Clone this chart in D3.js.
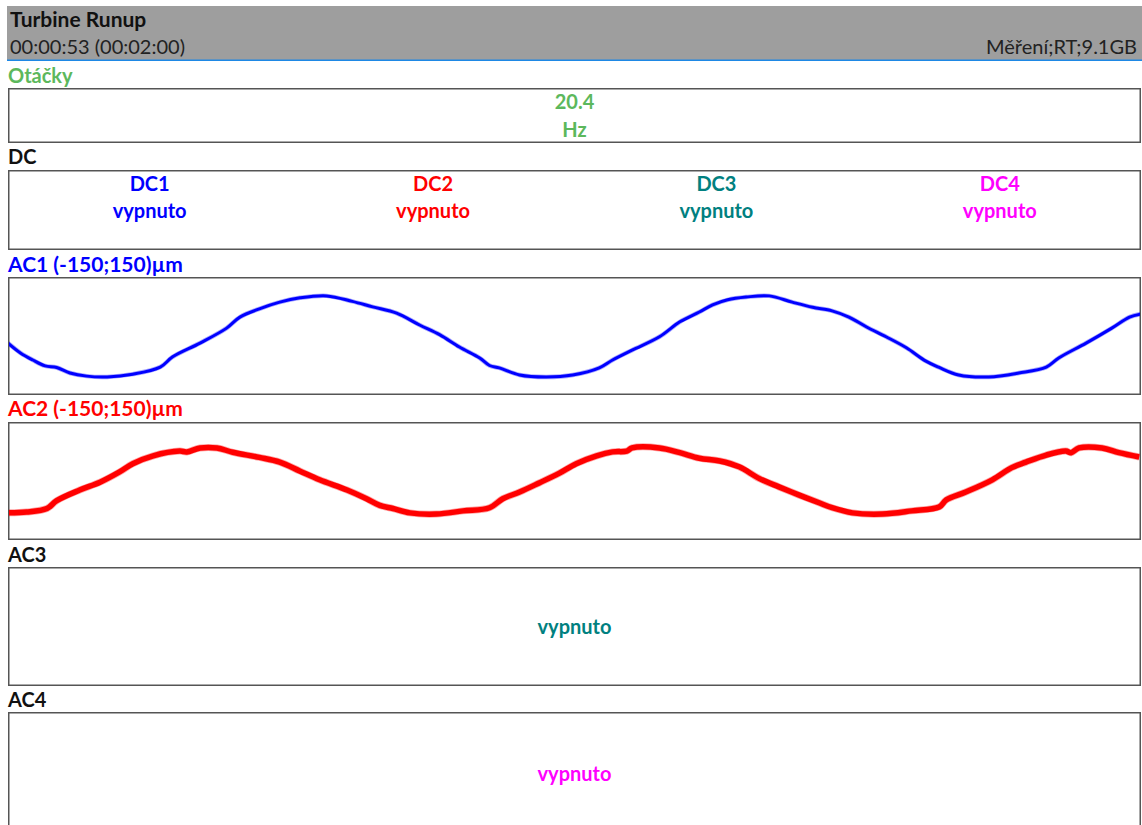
<!DOCTYPE html>
<html><head><meta charset="utf-8">
<script src="https://cdn.jsdelivr.net/npm/d3@7"></script>
<style>
html,body{margin:0;padding:0;background:#fff;}
svg{display:block;font-family:Lato,"Noto Sans",sans-serif;}
</style></head>
<body>
<script>
// ---- data ----
const title = "Turbine Runup";
const timeText = "00:00:53 (00:02:00)";
const statusText = "Měření;RT;9.1GB";
const speedLabel = "Otáčky";
const speedValue = "20.4";
const speedUnit = "Hz";
const dcChannels = ["DC1", "DC2", "DC3", "DC4"];
const dcStates = ["vypnuto", "vypnuto", "vypnuto", "vypnuto"];
const acLabels = ["AC1 (-150;150)µm", "AC2 (-150;150)µm", "AC3", "AC4"];
const acOffText = "vypnuto";
const acRange = [-150, 150];
const timeDomain = [0, 128]; // ms

// AC1 samples: time (ms), displacement (µm)
const ac1Time = [0,1.4,2.8,4.2,5.5,7.0,8.9,11.2,14.1,17.2,18.6,21.7,24.7,26.2,28.4,30.7,33.0,36.0,38.9,41.2,43.9,46.5,48.8,51.0,53.3,54.4,55.5,57.8,60.8,63.8,66.8,68.3,70.5,73.6,75.9,78.1,79.6,81.3,83.4,86.0,88.6,90.9,93.1,95.0,97.0,99.2,101.5,103.7,105.2,107.4,110.8,114.2,117.3,118.7,121.8,124.7,126.7,128];
const ac1Value = [-18,-43,-61,-76,-80,-94,-102,-104,-97,-79,-53,-18,20,48,69,86,97,102,88,74,58,28,3,-28,-56,-75,-81,-99,-104,-99,-81,-61,-36,-2,36,61,79,92,99,102,86,73,64,48,23,-2,-30,-64,-80,-99,-104,-94,-79,-56,-18,20,48,56];

// AC2 samples: time (ms), displacement (µm)
const ac2Time = [0,2.1,4.4,5.5,8.1,10.4,12.6,14.1,16.4,19.4,20.2,21.7,23.6,25.4,28.4,30.7,33.0,35.2,38.3,40.5,42.0,43.5,45.4,48.4,51.4,54.4,55.9,57.8,60.0,62.3,64.2,66.5,68.3,69.9,70.5,73.6,75.9,78.1,80.4,82.6,84.9,87.1,89.4,91.7,93.1,95.4,98.8,102.1,105.2,106.0,108.2,111.2,113.4,115.0,117.3,119.5,120.1,121.0,123.6,125.5,127.8];
const ac2Value = [-81,-79,-70,-50,-23,-3,23,44,64,76,74,84,84,73,60,48,25,3,-23,-45,-62,-70,-81,-84,-76,-68,-45,-28,-5,20,44,64,74,76,84,84,72,58,51,36,6,-15,-36,-56,-68,-81,-84,-76,-66,-48,-28,3,34,48,66,76,72,84,84,72,61];

// ---- styles ----
const W = 1142, H = 825;
const C = {
  header: "#9e9e9e", headerLine: "#1e88e5", green: "#5cb85c",
  blue: "#0000ff", red: "#ff0000", teal: "#008080", magenta: "#ff00ff",
  text: "#111", border: "#555"
};
const FS = 20;
const dcColors = [C.blue, C.red, C.teal, C.magenta];
const boxX0 = 8, boxX1 = 1141;

const svg = d3.select("body").append("svg").attr("width", W).attr("height", H);

// header
svg.append("rect").attr("x", 7).attr("y", 6).attr("width", W - 7).attr("height", 54).attr("fill", C.header);
svg.append("rect").attr("x", 7).attr("y", 59.5).attr("width", W - 7).attr("height", 1.5).attr("fill", C.headerLine);
svg.append("text").attr("x", 10).attr("y", 27).attr("font-size", 21).attr("font-weight", "bold").attr("fill", C.text).text(title);
svg.append("text").attr("x", 10).attr("y", 54).attr("font-size", FS).attr("fill", "#222").text(timeText);
svg.append("text").attr("x", 1137).attr("y", 54).attr("text-anchor", "end").attr("font-size", FS).attr("fill", "#222").text(statusText);

function box(y0, y1) {
  svg.append("rect").attr("x", boxX0 + 0.75).attr("y", y0 + 0.75)
    .attr("width", boxX1 - boxX0 - 1.5).attr("height", y1 - y0 - 1.5)
    .attr("fill", "#fff").attr("stroke", C.border).attr("stroke-width", 1.5);
}
function label(y, txt, color, fs) {
  svg.append("text").attr("x", 8).attr("y", y).attr("font-size", fs || FS).attr("font-weight", "bold").attr("fill", color).text(txt);
}
const cx = (boxX0 + boxX1) / 2;

// Otáčky
label(83, speedLabel, C.green);
box(88, 143);
svg.append("text").attr("x", cx).attr("y", 109).attr("text-anchor", "middle").attr("font-size", FS).attr("font-weight", "bold").attr("fill", C.green).text(speedValue);
svg.append("text").attr("x", cx).attr("y", 137).attr("text-anchor", "middle").attr("font-size", FS).attr("font-weight", "bold").attr("fill", C.green).text(speedUnit);

// DC
label(164, "DC", C.text);
box(170, 250);
const dcX = d3.scaleBand().domain(dcChannels).range([boxX0, boxX1 + 0.5]);
dcChannels.forEach((ch, i) => {
  const x = dcX(ch) + dcX.bandwidth() / 2;
  svg.append("text").attr("x", x).attr("y", 191).attr("text-anchor", "middle").attr("font-size", FS).attr("font-weight", "bold").attr("fill", dcColors[i]).text(ch);
  svg.append("text").attr("x", x).attr("y", 218).attr("text-anchor", "middle").attr("font-size", FS).attr("font-weight", "bold").attr("fill", dcColors[i]).text(dcStates[i]);
});

// AC panels
const acPanels = [
  {label: acLabels[0], color: C.blue, y0: 277, y1: 395, t: ac1Time, v: ac1Value, sw: 3},
  {label: acLabels[1], color: C.red, y0: 422, y1: 540, t: ac2Time, v: ac2Value, sw: 5.5},
  {label: acLabels[2], color: C.text, y0: 567, y1: 686, off: C.teal},
  {label: acLabels[3], color: C.text, y0: 712, y1: 860, off: C.magenta}
];
const labelY = [272, 416, 562, 707];
const x = d3.scaleLinear().domain(timeDomain).range([boxX0, boxX1]);
acPanels.forEach((p, i) => {
  label(labelY[i], p.label, p.color, i < 2 ? 21 : FS);
  box(p.y0, p.y1);
  if (p.t) {
    const y = d3.scaleLinear().domain(acRange).range([p.y1, p.y0]);
    const data = p.t.map((t, k) => [t, p.v[k]]);
    const clipId = "clip" + i;
    svg.append("clipPath").attr("id", clipId).append("rect")
      .attr("x", boxX0 + 1).attr("y", p.y0 + 1).attr("width", boxX1 - boxX0 - 2).attr("height", p.y1 - p.y0 - 2);
    const line = d3.line().x(d => x(d[0])).y(d => y(d[1])).curve(d3.curveCatmullRom.alpha(0.5));
    svg.append("path").datum(data).attr("clip-path", `url(#${clipId})`)
      .attr("d", line).attr("fill", "none").attr("stroke", p.color).attr("stroke-opacity", 0.35)
      .attr("stroke-width", p.sw + 1.5).attr("stroke-linejoin", "round");
    svg.append("path").datum(data).attr("clip-path", `url(#${clipId})`)
      .attr("d", line).attr("fill", "none").attr("stroke", p.color)
      .attr("stroke-width", p.sw).attr("stroke-linejoin", "round");
  } else {
    const cy = i === 2 ? 634 : 781;
    svg.append("text").attr("x", cx).attr("y", cy).attr("text-anchor", "middle").attr("font-size", FS).attr("font-weight", "bold").attr("fill", p.off).text(acOffText);
  }
});
</script>
</body></html>
